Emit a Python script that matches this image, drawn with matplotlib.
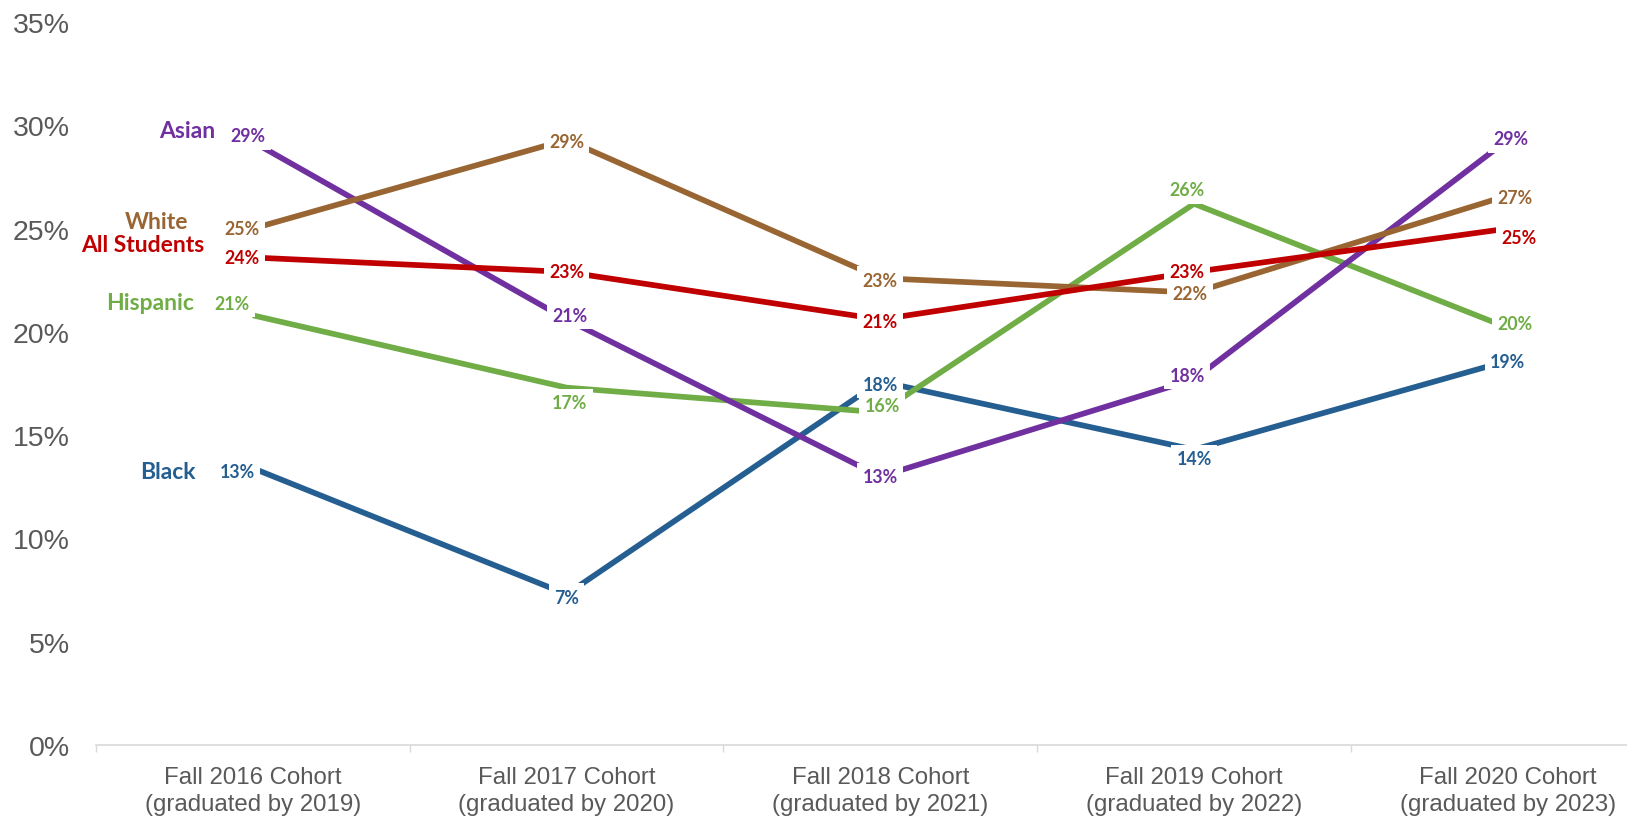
import matplotlib
matplotlib.use("Agg")
import matplotlib.pyplot as plt
from matplotlib.ticker import FixedLocator, FuncFormatter

# ---------------- data ----------------
categories = [
    "Fall 2016 Cohort\n(graduated by 2019)",
    "Fall 2017 Cohort\n(graduated by 2020)",
    "Fall 2018 Cohort\n(graduated by 2021)",
    "Fall 2019 Cohort\n(graduated by 2022)",
    "Fall 2020 Cohort\n(graduated by 2023)",
]
series_names = ["Asian", "White", "All Students", "Hispanic", "Black"]
asian = [29.2, 20.6, 13.0, 17.7, 29.3]
white = [25.0, 29.3, 22.6, 21.9, 26.6]
all_students = [23.6, 22.9, 20.6, 22.9, 25.0]
hispanic = [20.8, 17.3, 16.1, 26.2, 20.2]
black = [13.4, 7.3, 17.6, 14.3, 18.6]
y_ticks = [0, 5, 10, 15, 20, 25, 30, 35]

# ---------------- style ----------------
colors = {
    "Asian": "#7030A0",
    "White": "#996633",
    "All Students": "#C00000",
    "Hispanic": "#70AD47",
    "Black": "#255E91",
}
# label offsets in pixels (dx right, dy down) for each point
label_offsets = {
    "Asian": [(-5, -6), (3, -4), (0, 0), (-7, -4), (3, -1)],
    "White": [(-11, 0), (0, 2), (0, 2), (-4, 1), (7, 2)],
    "All Students": [(-11, 0), (0, 0), (0, 2), (-7, 0), (11, 9)],
    "Hispanic": [(-21, -12), (3, 15), (2, -7), (-7, -14), (7, -4)],
    "Black": [(-16, 3), (0, 3), (0, 3), (0, 9), (0, 1)],
}
label_z = {"Asian": 6, "White": 6.5, "All Students": 6.2, "Hispanic": 6.1, "Black": 6.3}
# series name offsets from first point (right edge, dy down)
name_offsets = {
    "Asian": (-38, -11),
    "White": (-65, -7),
    "All Students": (-48, -13),
    "Hispanic": (-59, -13),
    "Black": (-57, 3),
}
draw_order = ["Black", "Hispanic", "Asian", "White", "All Students"]
data = {"Asian": asian, "White": white, "All Students": all_students,
        "Hispanic": hispanic, "Black": black}

label_font = ["Lato", "DejaVu Sans"]
tick_font = ["Liberation Sans", "DejaVu Sans"]

W, H, DPI = 1627, 820, 100
fig = plt.figure(figsize=(W / DPI, H / DPI), dpi=DPI)
fig.patch.set_facecolor("white")
left_px, right_px, bottom_px, top_px = 96, 1627, 746, 23
ax = fig.add_axes([left_px / W, 1 - bottom_px / H,
                   (right_px - left_px) / W, (bottom_px - top_px) / H])

x = list(range(len(categories)))
for name in draw_order:
    ax.plot(x, data[name], color=colors[name], linewidth=4.1,
            solid_capstyle="butt", zorder=2)

for name in series_names:
    vals = data[name]
    for i, v in enumerate(vals):
        dx, dy = label_offsets[name][i]
        ax.annotate(f"{round(v):.0f}%", (x[i], v), xytext=(dx, -dy),
                    textcoords="offset pixels", ha="center", va="center",
                    fontsize=12.8, fontweight="bold", color=colors[name],
                    family=label_font, zorder=label_z[name], annotation_clip=False,
                    bbox=dict(boxstyle="square,pad=0.3", fc="white", ec="none"))
    ndx, ndy = name_offsets[name]
    ax.annotate(name, (x[0], vals[0]), xytext=(ndx, -ndy),
                textcoords="offset pixels", ha="right", va="center",
                fontsize=16.5, fontweight="bold", color=colors[name],
                family=label_font, zorder=7, annotation_clip=False)

ax.set_xlim(-0.5, 4.38)
ax.set_ylim(0, 35)

ax.set_xticks(x)
ax.set_xticklabels(categories, fontsize=17.3, color="#595959", family=tick_font,
                   linespacing=1.3)
ax.xaxis.set_minor_locator(FixedLocator([-0.5, 0.5, 1.5, 2.5, 3.5]))
ax.tick_params(axis="x", which="major", length=0, pad=15)
ax.tick_params(axis="x", which="minor", length=5, width=1, color="#d9d9d9")

ax.yaxis.set_major_locator(FixedLocator(y_ticks))
ax.yaxis.set_major_formatter(FuncFormatter(lambda v, p: f"{v:.0f}%"))
ax.tick_params(axis="y", length=0, pad=19, labelsize=20.5, labelcolor="#595959")
for lbl in ax.get_yticklabels():
    lbl.set_family(tick_font)

for s in ["left", "top", "right"]:
    ax.spines[s].set_visible(False)
ax.spines["bottom"].set_color("#d9d9d9")
ax.spines["bottom"].set_linewidth(1.2)
ax.set_facecolor("white")

fig.savefig("out.png", dpi=DPI, facecolor="white")
